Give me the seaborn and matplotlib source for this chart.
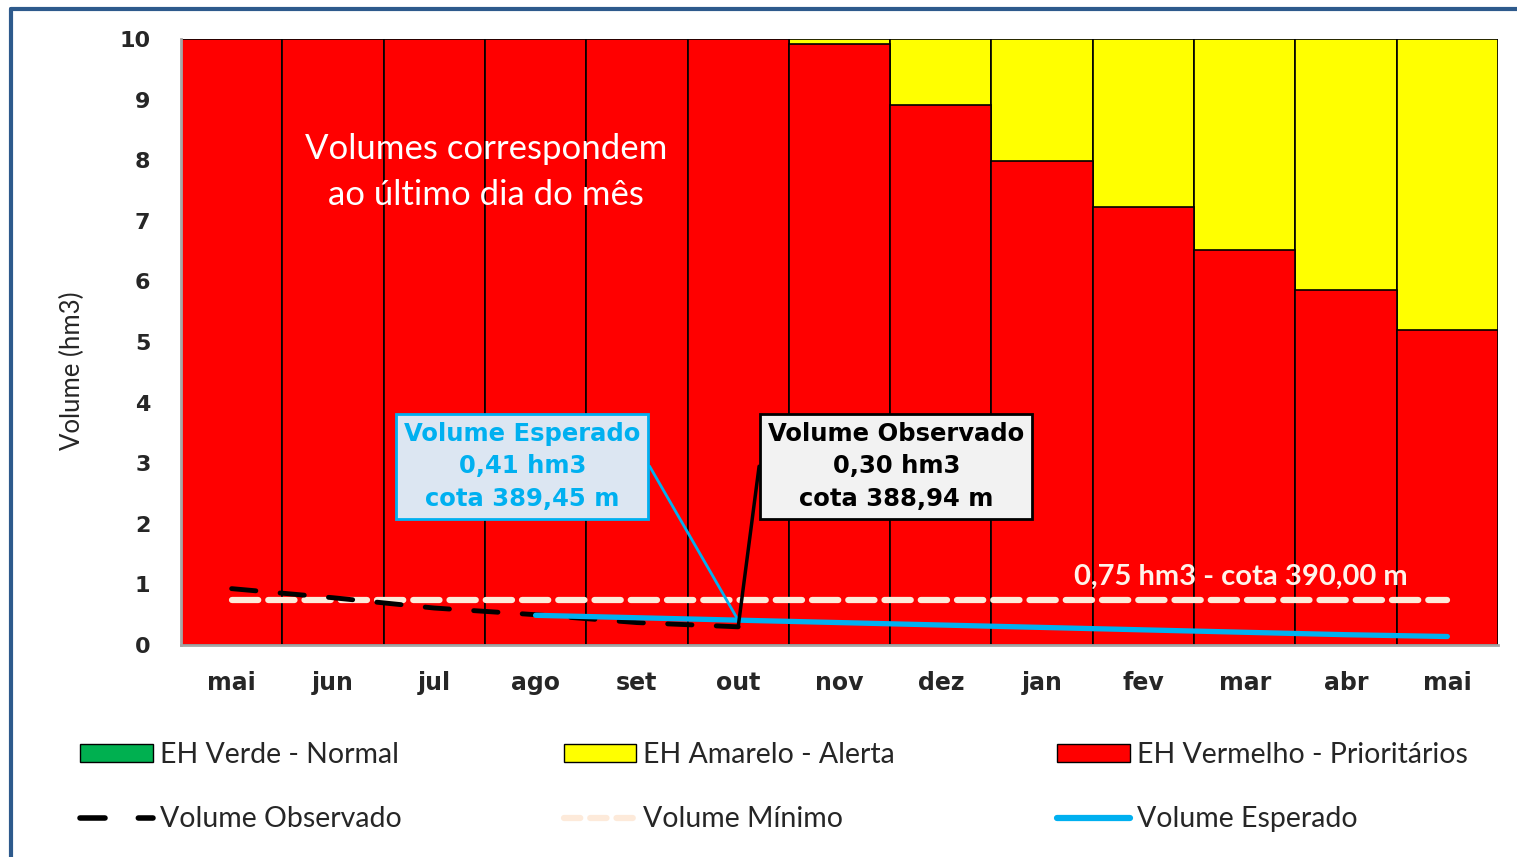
import numpy as np
import pandas as pd
import seaborn as sns
import matplotlib.pyplot as plt
from matplotlib.patches import Patch
from matplotlib.lines import Line2D

# data (hm3, last day of each month)
months = ["mai", "jun", "jul", "ago", "set", "out", "nov",
          "dez", "jan", "fev", "mar", "abr", "mai"]
red_level = [10, 10, 10, 10, 10, 10, 9.92, 8.91, 7.99, 7.23, 6.52, 5.86, 5.20]
yellow_level = [0, 0, 0, 0, 0, 0, 0.08, 1.09, 2.01, 2.77, 3.48, 4.14, 4.80]
observed = [0.93, 0.78, 0.61, 0.50, 0.37, 0.30,
            np.nan, np.nan, np.nan, np.nan, np.nan, np.nan, np.nan]
expected = [np.nan, np.nan, np.nan, 0.49, 0.45, 0.41, 0.37,
            0.33, 0.29, 0.25, 0.21, 0.17, 0.14]
minimum = [0.75] * 13

RED = "#FF0000"
YELLOW = "#FFFF00"
GREEN = "#00B050"
BLUE = "#00B0F0"
PEACH = "#FDEADA"

df = pd.DataFrame({
    "pos": range(len(months)),
    "red": red_level,
    "total": np.array(red_level) + np.array(yellow_level),
    "observed": observed,
    "expected": expected,
    "minimum": minimum,
})

sns.set_style("white")
plt.rcParams["font.family"] = ["Lato", "DejaVu Sans"]

fig = plt.figure(figsize=(15.17, 8.57), dpi=100)
ax = fig.add_axes([181 / 1517, 1 - 645 / 857, (1498 - 181) / 1517, (645 - 39) / 857])

# stacked levels: yellow up to total, red on top of it from 0
sns.barplot(data=df, x="pos", y="total", color=YELLOW, saturation=1,
            width=1, edgecolor="black", linewidth=1.2, ax=ax)
sns.barplot(data=df, x="pos", y="red", color=RED, saturation=1,
            width=1, edgecolor="black", linewidth=1.2, ax=ax)

sns.lineplot(data=df, x="pos", y="minimum", color=PEACH, linewidth=4.5,
             linestyle=(0, (4.2, 1.6)), dash_capstyle="round", ax=ax)
sns.lineplot(data=df, x="pos", y="observed", color="black", linewidth=3.5,
             linestyle=(0, (5, 5)), dash_capstyle="round", ax=ax)
sns.lineplot(data=df, x="pos", y="expected", color=BLUE, linewidth=3.8,
             solid_capstyle="round", ax=ax)

ax.set_xlim(-0.5, len(months) - 0.5)
ax.set_ylim(0, 10)
ax.set_yticks(range(0, 11))
ax.set_xticks(range(len(months)))
ax.set_xticklabels(months)
ax.tick_params(axis="y", length=0, pad=22, labelsize=16)
ax.tick_params(axis="x", length=0, pad=19, labelsize=17)
for lab in ax.get_xticklabels() + ax.get_yticklabels():
    lab.set_family("DejaVu Sans")
    lab.set_fontweight("bold")
ax.set_xlabel("")
ax.set_ylabel("")
for side in ["top", "right"]:
    ax.spines[side].set_visible(False)
for side in ["left", "bottom"]:
    ax.spines[side].set_color("#A6A6A6")
    ax.spines[side].set_linewidth(2)

fig.text(72 / 1517, 1 - 371 / 857, "Volume (hm3)", rotation=90,
         ha="center", va="center", fontsize=18.5)

ax.text(2.51, 7.80, "Volumes correspondem\nao último dia do mês", color="white",
        ha="center", va="center", fontsize=25, linespacing=1.55)
ax.text(9.96, 1.12, "0,75 hm3 - cota 390,00 m", color="#FFF3EA",
        ha="center", va="center", fontsize=21, fontweight="bold")

# callouts
ax.annotate("Volume Esperado\n0,41 hm3\ncota 389,45 m",
            xy=(5, expected[5]), xytext=(2.87, 2.95),
            ha="center", va="center", color=BLUE, fontsize=17.5,
            fontweight="bold", family="DejaVu Sans", linespacing=1.45,
            bbox=dict(boxstyle="square,pad=0.32", fc="#DCE6F2", ec=BLUE, lw=2),
            arrowprops=dict(arrowstyle="-", color=BLUE, lw=2, relpos=(1, 0.5),
                            connectionstyle="arc,angleA=0,armA=9,angleB=0,armB=0,rad=0",
                            shrinkA=0, shrinkB=0))
ax.annotate("Volume Observado\n0,30 hm3\ncota 388,94 m",
            xy=(5, observed[5]), xytext=(6.56, 2.95),
            ha="center", va="center", color="black", fontsize=17.5,
            fontweight="bold", family="DejaVu Sans", linespacing=1.45,
            bbox=dict(boxstyle="square,pad=0.32", fc="#F2F2F2", ec="black", lw=2),
            arrowprops=dict(arrowstyle="-", color="black", lw=2.5, relpos=(0, 0.5),
                            connectionstyle="arc,angleA=180,armA=9,angleB=0,armB=0,rad=0",
                            shrinkA=0, shrinkB=0))

handles = [
    Patch(fc=GREEN, ec="black", lw=1, label="EH Verde - Normal"),
    Line2D([], [], color="black", lw=4, linestyle=(0, (4.5, 6)),
           dash_capstyle="round", label="Volume Observado"),
    Patch(fc=YELLOW, ec="black", lw=1, label="EH Amarelo - Alerta"),
    Line2D([], [], color=PEACH, lw=4.5, linestyle=(0, (2.6, 1.6)),
           dash_capstyle="round", label="Volume Mínimo"),
    Patch(fc=RED, ec="black", lw=1, label="EH Vermelho - Prioritários"),
    Line2D([], [], color=BLUE, lw=4.5, solid_capstyle="round", label="Volume Esperado"),
]
fig.legend(handles=handles, ncol=3, mode="expand", frameon=False,
           loc="upper left", bbox_to_anchor=(80 / 1517, 1 - 742 / 857, 0.915, 0),
           borderaxespad=0, borderpad=0, fontsize=20.5, handlelength=2.55,
           handleheight=0.55, handletextpad=0.25, labelspacing=1.35)

# outer frame of the slide
fig.add_artist(Line2D([11 / 1517, 1], [1 - 9 / 857, 1 - 9 / 857],
                      transform=fig.transFigure, color="#2E5A8C", lw=3))
fig.add_artist(Line2D([11 / 1517, 11 / 1517], [0, 1 - 9 / 857],
                      transform=fig.transFigure, color="#2E5A8C", lw=3))

fig.savefig("out.png", dpi=100)
plt.close(fig)
